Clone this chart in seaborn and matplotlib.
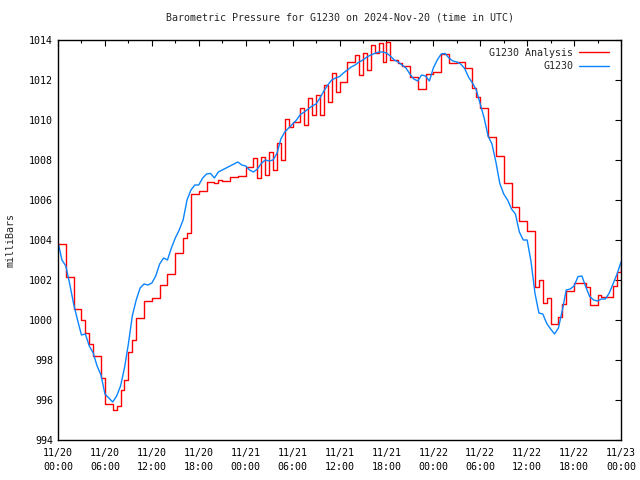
import numpy as np
import pandas as pd
import matplotlib
matplotlib.use("Agg")
import matplotlib.pyplot as plt
import matplotlib.dates as mdates
import seaborn as sns

title = "Barometric Pressure for G1230 on 2024-Nov-20 (time in UTC)"
ylabel = "milliBars"
series_names = ["G1230 Analysis", "G1230"]
start = "2024-11-20 00:00"

# hours since start, every half hour
hours = np.arange(0, 72.5, 0.5)

analysis = [
    1003.8, 1003.8, 1002.17, 1002.17, 1000.53, 1000.53, 1000.0, 999.33, 998.8, 998.2,
    998.2, 997.1, 995.8, 995.8, 995.5, 995.7, 996.5, 997.0, 998.4, 999.0,
    1000.1, 1000.1, 1000.95, 1000.95, 1001.1, 1001.1, 1001.73, 1001.73, 1002.3, 1002.3,
    1003.33, 1003.33, 1004.1, 1004.35, 1006.3, 1006.3, 1006.47, 1006.47, 1006.9, 1006.9,
    1006.83, 1007.0, 1006.95, 1006.95, 1007.17, 1007.17, 1007.2, 1007.2, 1007.67, 1007.67,
    1008.08, 1007.08, 1008.17, 1007.25, 1008.42, 1007.5, 1008.83, 1008.0, 1010.05, 1009.67,
    1009.9, 1009.9, 1010.58, 1009.75, 1011.08, 1010.25, 1011.25, 1010.25, 1011.75, 1010.9,
    1012.37, 1011.42, 1011.92, 1011.92, 1012.92, 1012.92, 1013.25, 1012.25, 1013.37, 1012.5,
    1013.75, 1013.33, 1013.87, 1012.92, 1013.92, 1013.0, 1013.0, 1012.83, 1012.7, 1012.7,
    1012.13, 1012.13, 1011.55, 1011.55, 1012.3, 1012.3, 1012.42, 1012.42, 1013.3, 1013.3,
    1012.83, 1012.83, 1012.92, 1012.92, 1012.58, 1012.58, 1011.58, 1011.17, 1010.58, 1010.58,
    1009.13, 1009.13, 1008.2, 1008.2, 1006.83, 1006.83, 1005.67, 1005.67, 1004.97, 1004.97,
    1004.47, 1004.47, 1001.67, 1002.0, 1000.83, 1001.08, 999.8, 999.8, 1000.13, 1000.8,
    1001.47, 1001.47, 1001.83, 1001.83, 1001.83, 1001.63, 1000.75, 1000.75, 1001.25, 1001.17,
    1001.17, 1001.17, 1001.7, 1002.4, 1002.9,
]

observed = [
    1003.9, 1003.0, 1002.7, 1001.8, 1000.8, 1000.0, 999.25, 999.3, 998.7, 998.35,
    997.7, 997.25, 996.3, 996.1, 995.9, 996.2, 996.7, 997.6, 998.8, 1000.2,
    1001.0, 1001.6, 1001.8, 1001.75, 1001.85, 1002.2, 1002.8, 1003.1, 1003.0, 1003.6,
    1004.1, 1004.5, 1005.0, 1006.0, 1006.5, 1006.75, 1006.75, 1007.1, 1007.3, 1007.33,
    1007.1, 1007.4, 1007.5, 1007.6, 1007.7, 1007.8, 1007.9, 1007.75, 1007.7, 1007.5,
    1007.4, 1007.55, 1007.83, 1008.0, 1007.95, 1008.0, 1008.33, 1009.05, 1009.4, 1009.6,
    1009.8, 1010.0, 1010.28, 1010.4, 1010.55, 1010.7, 1010.8, 1011.1, 1011.45, 1011.75,
    1012.0, 1012.1, 1012.17, 1012.35, 1012.5, 1012.65, 1012.75, 1012.9, 1013.0, 1013.15,
    1013.25, 1013.33, 1013.4, 1013.4, 1013.35, 1013.2, 1013.0, 1012.9, 1012.75, 1012.6,
    1012.3, 1012.05, 1011.95, 1012.25, 1012.2, 1011.95, 1012.6, 1013.0, 1013.3, 1013.33,
    1013.1, 1012.95, 1012.9, 1012.8, 1012.58, 1012.15, 1011.85, 1011.5, 1010.8, 1010.1,
    1009.2, 1008.8, 1007.9, 1006.83, 1006.3, 1006.0, 1005.55, 1005.3, 1004.4, 1004.0,
    1004.0, 1002.9, 1001.33, 1000.35, 1000.3, 999.83, 999.55, 999.3, 999.6, 1000.5,
    1001.5, 1001.55, 1001.7, 1002.17, 1002.2, 1001.65, 1001.17, 1001.0, 1000.95, 1001.05,
    1001.05, 1001.35, 1001.83, 1002.3, 1002.9,
]

times = pd.Timestamp(start) + pd.to_timedelta(hours, unit="h")
df = pd.DataFrame({"time": times, "analysis": analysis, "observed": observed})

sns.set_style("white")
plt.rcParams["font.family"] = ["DejaVu Sans Mono", "DejaVu Sans"]
plt.rcParams["font.size"] = 7.2

fig = plt.figure(figsize=(6.4, 4.8), dpi=100)
ax = fig.add_axes([58 / 640, 1 - 440 / 480, 563 / 640, 400 / 480])

sns.lineplot(data=df, x="time", y="analysis", ax=ax, color="#ff0000",
             linewidth=1.0, drawstyle="steps-post", label=series_names[0])
sns.lineplot(data=df, x="time", y="observed", ax=ax, color="#0a84ff",
             linewidth=1.0, label=series_names[1])

ax.set_xlim(pd.Timestamp(start), pd.Timestamp(start) + pd.Timedelta(hours=72))
ax.set_ylim(994, 1014)
ax.set_yticks(np.arange(994, 1015, 2))
ax.xaxis.set_major_locator(mdates.HourLocator(byhour=[0, 6, 12, 18]))
ax.xaxis.set_minor_locator(mdates.HourLocator(byhour=[3, 9, 15, 21]))
ax.xaxis.set_major_formatter(mdates.DateFormatter("%m/%d\n%H:%M"))

ax.tick_params(axis="both", which="both", direction="in", top=True, right=True,
               colors="black", labelsize=7.2)
ax.tick_params(axis="both", which="major", length=4, width=0.8)
ax.tick_params(axis="x", which="minor", length=2, width=0.8)
ax.tick_params(axis="x", which="major", pad=6)
ax.tick_params(axis="y", which="major", pad=3.5)
for lab in ax.get_xticklabels():
    lab.set_linespacing(1.5)

for sp in ax.spines.values():
    sp.set_color("black")
    sp.set_linewidth(1.0)

ax.set_xlabel("")
ax.set_ylabel(ylabel, fontsize=7.2)
ax.yaxis.set_label_coords((16 - 58) / 563, 0.5)
ax.set_title(title, fontsize=7.2, pad=14)

leg = ax.legend(loc="upper right", bbox_to_anchor=(1 - 5 / 563, 1 - 1 / 400),
                frameon=False, markerfirst=False,
                fontsize=7.2, handlelength=3.0, handletextpad=0.6,
                borderaxespad=0.3, labelspacing=0.35)

fig.savefig("out.png", dpi=100)
